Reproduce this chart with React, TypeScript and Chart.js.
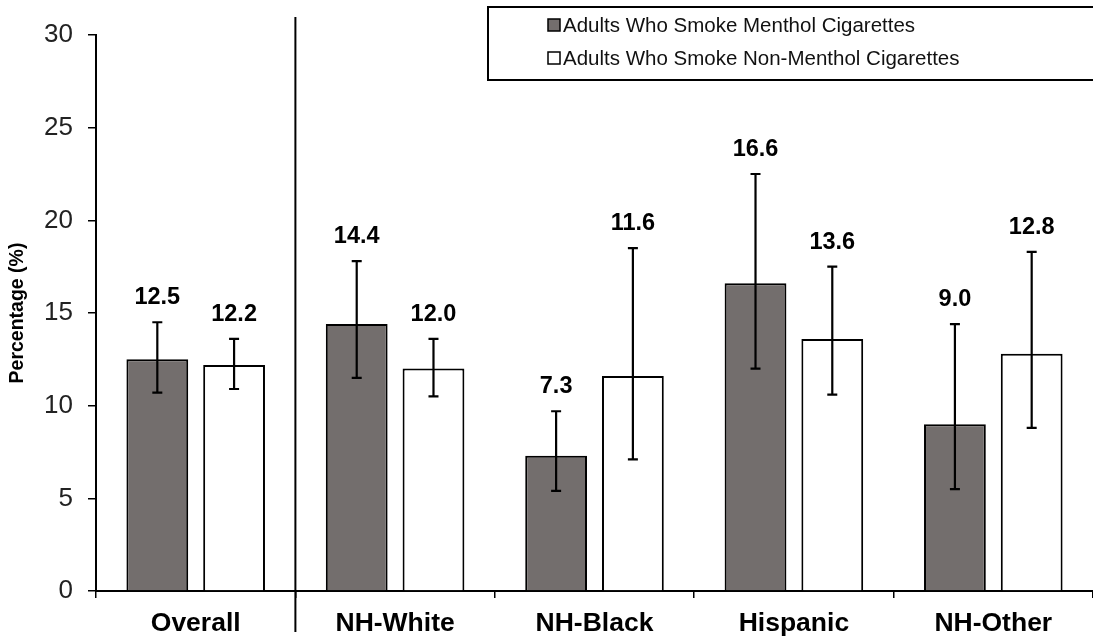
import React, { useEffect, useRef } from "react";
import { Chart, registerables } from "chart.js";

Chart.register(...registerables);

const categories = ["Overall", "NH-White", "NH-Black", "Hispanic", "NH-Other"];
const seriesNames = [
  "Adults Who Smoke Menthol Cigarettes",
  "Adults Who Smoke Non-Menthol Cigarettes",
];
const mentholValues = [12.5, 14.4, 7.3, 16.6, 9.0];
const mentholLow = [10.7, 11.5, 5.4, 12.0, 5.5];
const mentholHigh = [14.5, 17.8, 9.7, 22.5, 14.4];
const nonMentholValues = [12.2, 12.0, 11.6, 13.6, 12.8];
const nonMentholLow = [10.9, 10.5, 7.1, 10.6, 8.8];
const nonMentholHigh = [13.6, 13.6, 18.5, 17.5, 18.3];
const yTicks = [0, 5, 10, 15, 20, 25, 30];

const FONT = "'Liberation Sans', Arial, sans-serif";
const lows = [mentholLow, nonMentholLow];
const highs = [mentholHigh, nonMentholHigh];

const errorBarPlugin = {
  id: "errorBars",
  afterDatasetsDraw(chart: any) {
    const ctx = chart.ctx;
    const y = chart.scales.y;
    ctx.save();
    chart.data.datasets.forEach((ds: any, di: number) => {
      const meta = chart.getDatasetMeta(di);
      meta.data.forEach((bar: any, i: number) => {
        const x = bar.x;
        const yl = y.getPixelForValue(lows[di][i]);
        const yh = y.getPixelForValue(highs[di][i]);
        ctx.strokeStyle = "#000";
        ctx.lineWidth = 2.2;
        ctx.beginPath();
        ctx.moveTo(x, yl);
        ctx.lineTo(x, yh);
        ctx.moveTo(x - 5, yl);
        ctx.lineTo(x + 5, yl);
        ctx.moveTo(x - 5, yh);
        ctx.lineTo(x + 5, yh);
        ctx.stroke();
        ctx.fillStyle = "#000";
        ctx.font = `bold 23.5px ${FONT}`;
        ctx.textAlign = "center";
        ctx.textBaseline = "alphabetic";
        ctx.fillText((ds.data[i] as number).toFixed(1), x, yh - 18);
      });
    });
    // divider line between Overall and subgroups
    const xs = chart.scales.x;
    const dx = (xs.getPixelForValue(0) + xs.getPixelForValue(1)) / 2;
    ctx.strokeStyle = "#000";
    ctx.lineWidth = 2;
    ctx.beginPath();
    ctx.moveTo(dx, 17);
    ctx.lineTo(dx, 632);
    ctx.stroke();

    // legend box
    const lx = 488;
    const ly = 7;
    ctx.fillStyle = "#fff";
    ctx.fillRect(lx, ly, 700, 73);
    ctx.lineWidth = 2;
    ctx.strokeRect(lx, ly, 700, 73);
    chart.data.datasets.forEach((ds: any, di: number) => {
      const cy = 25 + di * 33;
      ctx.fillStyle = ds.backgroundColor;
      ctx.fillRect(548, cy - 6, 12, 12);
      ctx.lineWidth = 1.5;
      ctx.strokeStyle = "#000";
      ctx.strokeRect(548, cy - 6, 12, 12);
      ctx.fillStyle = "#111";
      ctx.font = `20.5px ${FONT}`;
      ctx.textAlign = "left";
      ctx.textBaseline = "middle";
      ctx.fillText(ds.label, 563, cy + 1);
    });
    ctx.restore();
  },
};

export default function App() {
  const canvasRef = useRef<HTMLCanvasElement | null>(null);

  useEffect(() => {
    document.body.style.margin = "0";
    const canvas = canvasRef.current;
    if (!canvas) return;
    const chart = new Chart(canvas, {
      type: "bar",
      data: {
        labels: categories,
        datasets: [
          {
            label: seriesNames[0],
            data: mentholValues,
            backgroundColor: "#736e6d",
            borderColor: "#000",
            borderWidth: 2,
            categoryPercentage: 0.77,
            barPercentage: 0.805,
          },
          {
            label: seriesNames[1],
            data: nonMentholValues,
            backgroundColor: "#ffffff",
            borderColor: "#000",
            borderWidth: 2,
            categoryPercentage: 0.77,
            barPercentage: 0.805,
          },
        ],
      },
      options: {
        responsive: true,
        maintainAspectRatio: false,
        animation: false,
        layout: { padding: { top: 35, right: 0, left: 0, bottom: 0 } },
        plugins: {
          legend: { display: false },
          tooltip: { enabled: false },
        },
        scales: {
          x: {
            offset: true,
            grid: {
              display: true,
              offset: true,
              drawOnChartArea: false,
              drawTicks: true,
              tickLength: 7,
              color: "#000",
              lineWidth: 1.5,
            },
            border: { display: true, color: "#000", width: 2 },
            ticks: {
              color: "#000",
              font: { family: FONT, size: 26.5, weight: "bold" },
              padding: 10,
              maxRotation: 0,
            },
            afterFit(scale: any) {
              scale.height = 48;
            },
          },
          y: {
            min: 0,
            max: 30,
            afterBuildTicks(scale: any) {
              scale.ticks = yTicks.map((v) => ({ value: v }));
            },
            grid: {
              display: true,
              drawOnChartArea: false,
              drawTicks: true,
              tickLength: 8,
              color: "#000",
              lineWidth: 1.5,
            },
            border: { display: true, color: "#000", width: 2 },
            ticks: {
              color: "#222",
              font: { family: FONT, size: 26 },
              padding: 15,
            },
            title: {
              display: true,
              text: "Percentage (%)",
              color: "#000",
              font: { family: FONT, size: 19.5, weight: "bold" },
              padding: { top: 6, bottom: 0 },
            },
            afterFit(scale: any) {
              scale.width = 96;
            },
          },
        },
      },
      plugins: [errorBarPlugin],
    });
    return () => chart.destroy();
  }, []);

  return (
    <div style={{ width: 1093, height: 639, position: "relative" }}>
      <canvas ref={canvasRef} />
    </div>
  );
}
